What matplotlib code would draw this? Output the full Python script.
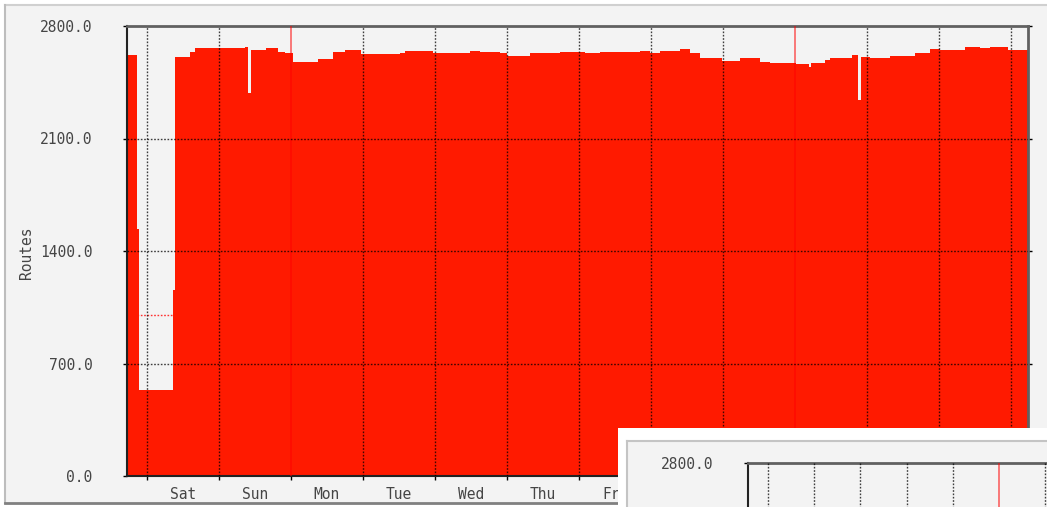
import matplotlib
matplotlib.use('Agg')
import matplotlib.pyplot as plt
from matplotlib.patches import Rectangle
from matplotlib.lines import Line2D

W, H = 1047, 507

# hours since Saturday 00:00; each value holds until the next entry
hours = [-6.7, -3.3, -2.8, 8.7, 9.3, 14.3, 16, 32.7, 33.7, 34.7, 39.7, 43.7, 46, 48.5,
         57, 62, 66, 71.3, 84.3, 86, 95.3, 107.7, 111, 117.7, 120, 127.7, 137.7, 146,
         151, 164.3, 167.7, 171, 177.7, 181, 184.3, 191.7, 197.7, 204.3, 207.7, 216.3,
         220.7, 221.3, 226, 227.7, 235, 237, 238, 241, 247.7, 256, 261, 264.3, 272.7,
         277.7, 281, 287, 293.7]
routes = [2620, 1540, 535, 1157, 2607, 2638, 2663, 2669, 2383, 2650, 2663, 2638, 2630, 2576,
          2594, 2638, 2650, 2626, 2632, 2644, 2632, 2644, 2638, 2632, 2613, 2632, 2638, 2632,
          2638, 2644, 2632, 2644, 2657, 2632, 2601, 2582, 2601, 2576, 2570, 2563,
          2545, 2570, 2588, 2601, 2620, 2340, 2607, 2601, 2613, 2632, 2657, 2650, 2669,
          2663, 2669, 2650, 2650]

day_names = ['Sat', 'Sun', 'Mon', 'Tue', 'Wed', 'Thu', 'Fri',
             'Sat', 'Sun', 'Mon', 'Tue', 'Wed']
y_ticks = [0, 700, 1400, 2100, 2800]
threshold = 1000

FONT = 'DejaVu Sans Mono'
TXT = '#454545'
BG = '#f3f3f3'
FILL = '#ff1a00'


def fx(x):
    return x / W


def fy(y):
    return 1 - y / H


def grid_lines(ax, ndays, monday_days):
    for d in range(ndays):
        h = 24 * d
        if d in monday_days:
            ax.axvline(h, color=(1, 0, 0, 0.55), lw=1.3, zorder=4)
        else:
            ax.axvline(h, color='black', alpha=0.75, lw=1.0,
                       linestyle=(0, (1.2, 1.2)), zorder=4)
    for v in y_ticks[1:-1]:
        ax.axhline(v, color='black', alpha=0.75, lw=1.0,
                   linestyle=(0, (1.2, 1.2)), zorder=4)


def style_axes(ax, labelled):
    ax.set_facecolor(BG)
    ax.set_ylim(0, 2800)
    ax.set_yticks(y_ticks)
    ax.set_yticklabels(['%.1f' % v if v in labelled else '' for v in y_ticks],
                       family=FONT, fontsize=10.5, color=TXT)
    ax.tick_params(axis='y', direction='out', length=3, width=1,
                   pad=22, right=True)
    for s in ('left', 'bottom'):
        ax.spines[s].set_color('#222222')
        ax.spines[s].set_linewidth(1.5)
    for s in ('top', 'right'):
        ax.spines[s].set_color('#606060')
        ax.spines[s].set_linewidth(2)


fig = plt.figure(figsize=(W / 100, H / 100), dpi=100, facecolor='white')

# main panel background and frame
fig.patches.append(Rectangle((fx(5), fy(503)), 1.0, fy(5) - fy(503),
                             transform=fig.transFigure, facecolor=BG,
                             edgecolor='none', zorder=-10))
fig.lines.append(Line2D([fx(5), 1], [fy(5), fy(5)], transform=fig.transFigure,
                        color='#d0d0d0', lw=1.5, zorder=-9))
fig.lines.append(Line2D([fx(5), fx(5)], [fy(5), fy(503)], transform=fig.transFigure,
                        color='#bdbdbd', lw=1.5, zorder=-9))
fig.lines.append(Line2D([fx(5), 1], [fy(503), fy(503)], transform=fig.transFigure,
                        color='#808080', lw=2, zorder=-9))

# main graph
ax = fig.add_axes([fx(127), fy(476), fx(1028) - fx(127), fy(26) - fy(476)], zorder=0)
style_axes(ax, y_ticks)
ax.set_xlim(-20 / 3, 881 / 3)
ax.axhline(threshold, color='#ff3030', lw=1, linestyle=(0, (1.2, 1.2)), zorder=1)
ax.fill_between(hours, routes, step='post', color=FILL, linewidth=0, zorder=2)
grid_lines(ax, 13, (2, 9))

ax.set_xticks([24 * d for d in range(13)])
ax.set_xticklabels([])
ax.set_xticks([12 + 24 * i for i in range(len(day_names))], minor=True)
ax.set_xticklabels(day_names, minor=True, family=FONT, fontsize=10.5, color=TXT)
ax.tick_params(axis='x', which='major', direction='out', length=3, width=1)
ax.tick_params(axis='x', which='minor', length=0, pad=8)

fig.text(fx(27), fy(253), 'Routes', rotation=90, ha='center', va='center',
         family=FONT, fontsize=10.5, color=TXT)

# second graph overlapping the bottom right corner
fig.patches.append(Rectangle((fx(618), 0), 1.0, fy(428), transform=fig.transFigure,
                             facecolor='white', edgecolor='none', zorder=5))
fig.patches.append(Rectangle((fx(627), 0), 1.0, fy(441), transform=fig.transFigure,
                             facecolor=BG, edgecolor='none', zorder=5.5))
fig.lines.append(Line2D([fx(627), 1], [fy(441), fy(441)], transform=fig.transFigure,
                        color='#c4c4c4', lw=1.5, zorder=5.6))
fig.lines.append(Line2D([fx(627), fx(627)], [fy(441), 0], transform=fig.transFigure,
                        color='#c4c4c4', lw=1.5, zorder=5.6))

ax2 = fig.add_axes([fx(748), fy(463 + 450), 552 / W, 450 / H], zorder=7)
style_axes(ax2, [2800])
ax2.set_xlim(-20 / 1.925, 532 / 1.925)
ax2.set_xticks([])
grid_lines(ax2, 7, (5,))

fig.savefig('out.png', dpi=100, facecolor='white')
